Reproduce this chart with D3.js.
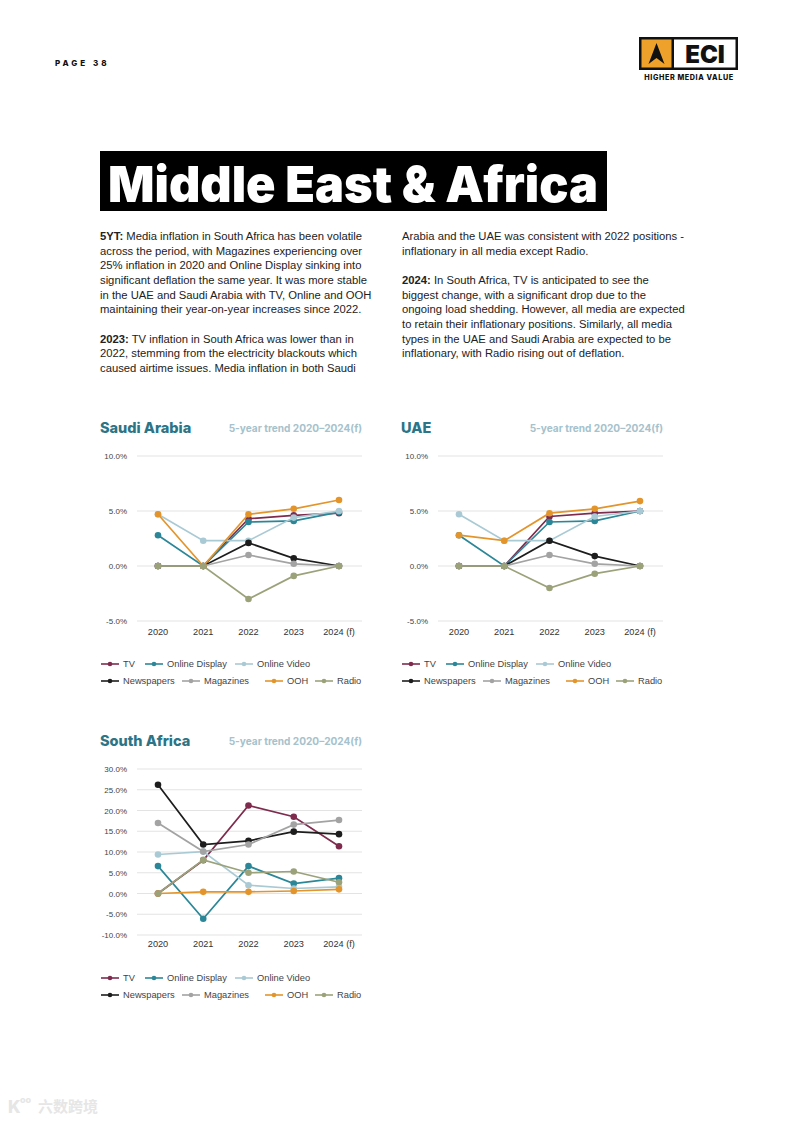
<!DOCTYPE html>
<html>
<head>
<meta charset="utf-8">
<script src="https://cdn.jsdelivr.net/npm/d3@7"></script>
<style>
  html, body { margin: 0; padding: 0; background: #fff; }
  svg { display: block; }
  .body-text { font-family: "Liberation Sans", Arial, sans-serif; font-size: 11.25px; fill: #222; }
  .axis-label { font-family: "Liberation Sans", Arial, sans-serif; font-size: 8px; fill: #444; }
  .year-label { font-family: "Liberation Sans", Arial, sans-serif; font-size: 9.2px; fill: #333; }
  .legend-label { font-family: "Liberation Sans", Arial, sans-serif; font-size: 9.3px; fill: #444; }
</style>
</head>
<body>
<div id="page"></div>
<script>
// categories
var years = ["2020", "2021", "2022", "2023", "2024 (f)"];
var media = ["TV", "Online Display", "Online Video", "Newspapers", "Magazines", "OOH", "Radio"];
var colors = ["#7e2b4d", "#2b8797", "#a9cad5", "#1d1d1d", "#a3a3a3", "#e3952b", "#9ba27a"];

// values in %, one row per media type (same order as `media`)
var saudiArabia = [
    [0, 0, 4.3, 4.6, 4.8],
    [2.8, 0, 4.0, 4.1, 4.9],
    [4.7, 2.3, 2.3, 4.4, 5.0],
    [0, 0, 2.1, 0.7, 0],
    [0, 0, 1.0, 0.2, 0],
    [4.7, 0, 4.7, 5.2, 6.0],
    [0, 0, -3.0, -0.9, 0]
];
var uae = [
    [0, 0, 4.5, 4.8, 5.0],
    [2.8, 0, 4.0, 4.1, 5.0],
    [4.7, 2.3, 2.3, 4.5, 5.0],
    [0, 0, 2.3, 0.9, 0],
    [0, 0, 1.0, 0.2, 0],
    [2.8, 2.3, 4.8, 5.2, 5.9],
    [0, 0, -2.0, -0.7, 0]
];
var southAfrica = [
    [0, 8.0, 21.2, 18.5, 11.4],
    [6.6, -6.1, 6.6, 2.4, 3.7],
    [9.4, 10.1, 2.0, 1.2, 1.6],
    [26.2, 11.8, 12.7, 14.9, 14.3],
    [17.0, 10.1, 11.8, 16.6, 17.7],
    [0, 0.4, 0.4, 0.6, 1.0],
    [0, 8.1, 5.0, 5.3, 2.7]
];

// tick labels
var smallTicks = [-5, 0, 5, 10];
var wideTicks = [-10, -5, 0, 5, 10, 15, 20, 25, 30];

var W = 793, H = 1122;
var svg = d3.select("#page").append("svg")
    .attr("width", W)
    .attr("height", H);

// header
svg.append("text")
    .attr("x", 55).attr("y", 66)
    .style("font-family", "Inter, sans-serif")
    .style("font-weight", 800)
    .style("font-size", "8px")
    .style("letter-spacing", "3px")
    .attr("fill", "#111")
    .text("PAGE 38");

// logo
var logo = svg.append("g");
logo.append("rect").attr("x", 639).attr("y", 37).attr("width", 99).attr("height", 33).attr("fill", "#111");
logo.append("rect").attr("x", 641.5).attr("y", 39.5).attr("width", 30).attr("height", 28).attr("fill", "#eea22b");
logo.append("rect").attr("x", 674).attr("y", 39.5).attr("width", 61.5).attr("height", 28).attr("fill", "#fff");
logo.append("path")
    .attr("d", "M656.5,43 L664.5,64 L656.5,58 L648.5,64 Z")
    .attr("fill", "#111");
logo.append("text")
    .attr("x", 705).attr("y", 63)
    .attr("text-anchor", "middle")
    .style("font-family", "Inter, sans-serif")
    .style("font-weight", 900)
    .style("font-size", "24px")
    .attr("fill", "#111")
    .text("ECI");
logo.append("text")
    .attr("x", 689).attr("y", 80)
    .attr("text-anchor", "middle")
    .style("font-family", "Inter, sans-serif")
    .style("font-weight", 800)
    .style("font-size", "7.2px")
    .style("letter-spacing", "0.6px")
    .attr("fill", "#111")
    .text("HIGHER MEDIA VALUE");

// page title
svg.append("rect").attr("x", 100).attr("y", 151).attr("width", 507).attr("height", 60).attr("fill", "#000");
svg.append("text")
    .attr("x", 108).attr("y", 202)
    .style("font-family", "Inter, sans-serif")
    .style("font-weight", 900)
    .style("font-size", "50px")
    .attr("textLength", 490)
    .attr("lengthAdjust", "spacingAndGlyphs")
    .attr("fill", "#fff")
    .text("Middle East & Africa");

// body text: [bold lead, rest] per line, null = blank line
var leftLines = [
    ["5YT:", " Media inflation in South Africa has been volatile"],
    ["", "across the period, with Magazines experiencing over"],
    ["", "25% inflation in 2020 and Online Display sinking into"],
    ["", "significant deflation the same year. It was more stable"],
    ["", "in the UAE and Saudi Arabia with TV, Online and OOH"],
    ["", "maintaining their year-on-year increases since 2022."],
    null,
    ["2023:", " TV inflation in South Africa was lower than in"],
    ["", "2022, stemming from the electricity blackouts which"],
    ["", "caused airtime issues. Media inflation in both Saudi"]
];
var rightLines = [
    ["", "Arabia and the UAE was consistent with 2022 positions -"],
    ["", "inflationary in all media except Radio."],
    null,
    ["2024:", " In South Africa, TV is anticipated to see the"],
    ["", "biggest change, with a significant drop due to the"],
    ["", "ongoing load shedding. However, all media are expected"],
    ["", "to retain their inflationary positions. Similarly, all media"],
    ["", "types in the UAE and Saudi Arabia are expected to be"],
    ["", "inflationary, with Radio rising out of deflation."]
];

function paragraph(lines, x, y0) {
    lines.forEach(function (l, i) {
        if (!l) return;
        var t = svg.append("text").attr("class", "body-text")
            .attr("x", x).attr("y", y0 + i * 14.65);
        if (l[0]) t.append("tspan").style("font-weight", 700).text(l[0]);
        t.append("tspan").text(l[1]);
    });
}
paragraph(leftLines, 100, 240);
paragraph(rightLines, 402, 240);

// legend layout (offsets from chart left)
var legendPos = [
    [1, 0], [45, 0], [135, 0],
    [1, 1], [82, 1], [165, 1], [215, 1]
];

var pct = function (d) { return d3.format(".1f")(d).replace("\u2212", "-") + "%"; };

function drawChart(opts) {
    var x0 = opts.x0;
    var g = svg.append("g");

    g.append("text")
        .attr("x", x0).attr("y", opts.titleY)
        .style("font-family", "Inter, sans-serif")
        .style("font-weight", 800)
        .style("font-size", "14.5px")
        .attr("fill", "#2c7486")
        .text(opts.title);
    g.append("text")
        .attr("x", x0 + 262).attr("y", opts.titleY - 1)
        .attr("text-anchor", "end")
        .style("font-family", "Inter, sans-serif")
        .style("font-weight", 700)
        .style("font-size", "10.1px")
        .attr("fill", "#a6c2cc")
        .text("5-year trend 2020\u20132024(f)");

    var x = d3.scalePoint().domain(years).range([x0 + 58, x0 + 239]);
    var y = d3.scaleLinear().domain(opts.domain).range(opts.yRange);

    // gridlines and y labels
    g.selectAll(".grid").data(opts.ticks).enter().append("line")
        .attr("x1", x0 + 37).attr("x2", x0 + 262)
        .attr("y1", function (d) { return y(d); })
        .attr("y2", function (d) { return y(d); })
        .attr("stroke", "#e3e3e3")
        .attr("stroke-width", 1);
    g.selectAll(".ylab").data(opts.ticks).enter().append("text")
        .attr("class", "axis-label")
        .attr("x", x0 + 27)
        .attr("y", function (d) { return y(d) + 3; })
        .attr("text-anchor", "end")
        .text(pct);

    // x labels
    g.selectAll(".xlab").data(years).enter().append("text")
        .attr("class", "year-label")
        .attr("x", function (d) { return x(d); })
        .attr("y", opts.yearY)
        .attr("text-anchor", "middle")
        .text(function (d) { return d; });

    var line = d3.line()
        .x(function (d, i) { return x(years[i]); })
        .y(function (d) { return y(d); });

    opts.data.forEach(function (vals, k) {
        var s = g.append("g");
        s.append("path")
            .attr("d", line(vals))
            .attr("fill", "none")
            .attr("stroke", colors[k])
            .attr("stroke-width", 1.7);
        s.selectAll("circle").data(vals).enter().append("circle")
            .attr("cx", function (d, i) { return x(years[i]); })
            .attr("cy", function (d) { return y(d); })
            .attr("r", 3.3)
            .attr("fill", colors[k]);
    });

    // legend
    media.forEach(function (m, k) {
        var lx = x0 + legendPos[k][0];
        var ly = opts.legendY + legendPos[k][1] * 17;
        g.append("line")
            .attr("x1", lx).attr("x2", lx + 18)
            .attr("y1", ly).attr("y2", ly)
            .attr("stroke", colors[k]).attr("stroke-width", 1.6);
        g.append("circle").attr("cx", lx + 9).attr("cy", ly).attr("r", 2.3).attr("fill", colors[k]);
        g.append("text").attr("class", "legend-label")
            .attr("x", lx + 22).attr("y", ly + 3.3)
            .text(m);
    });
}

drawChart({
    title: "Saudi Arabia", x0: 100, titleY: 433, data: saudiArabia,
    domain: [-5, 10], yRange: [621, 456], ticks: smallTicks,
    yearY: 635, legendY: 664
});
drawChart({
    title: "UAE", x0: 401, titleY: 433, data: uae,
    domain: [-5, 10], yRange: [621, 456], ticks: smallTicks,
    yearY: 635, legendY: 664
});
drawChart({
    title: "South Africa", x0: 100, titleY: 746, data: southAfrica,
    domain: [-10, 30], yRange: [935, 769], ticks: wideTicks,
    yearY: 947, legendY: 978
});

// watermark
svg.append("text")
    .attr("x", 38).attr("y", 1112)
    .style("font-family", "'Noto Sans CJK SC', sans-serif")
    .style("font-size", "15px")
    .style("font-weight", 700)
    .attr("fill", "#e6e6e6")
    .text("六数跨境");
svg.append("text")
    .attr("x", 8).attr("y", 1113)
    .style("font-family", "Inter, sans-serif")
    .style("font-size", "17px")
    .style("font-weight", 800)
    .attr("fill", "#e6e6e6")
    .text("K");
svg.append("text")
    .attr("x", 20).attr("y", 1103)
    .style("font-family", "Inter, sans-serif")
    .style("font-size", "9px")
    .style("font-weight", 800)
    .attr("fill", "#e6e6e6")
    .text("oo");
</script>
</body>
</html>
